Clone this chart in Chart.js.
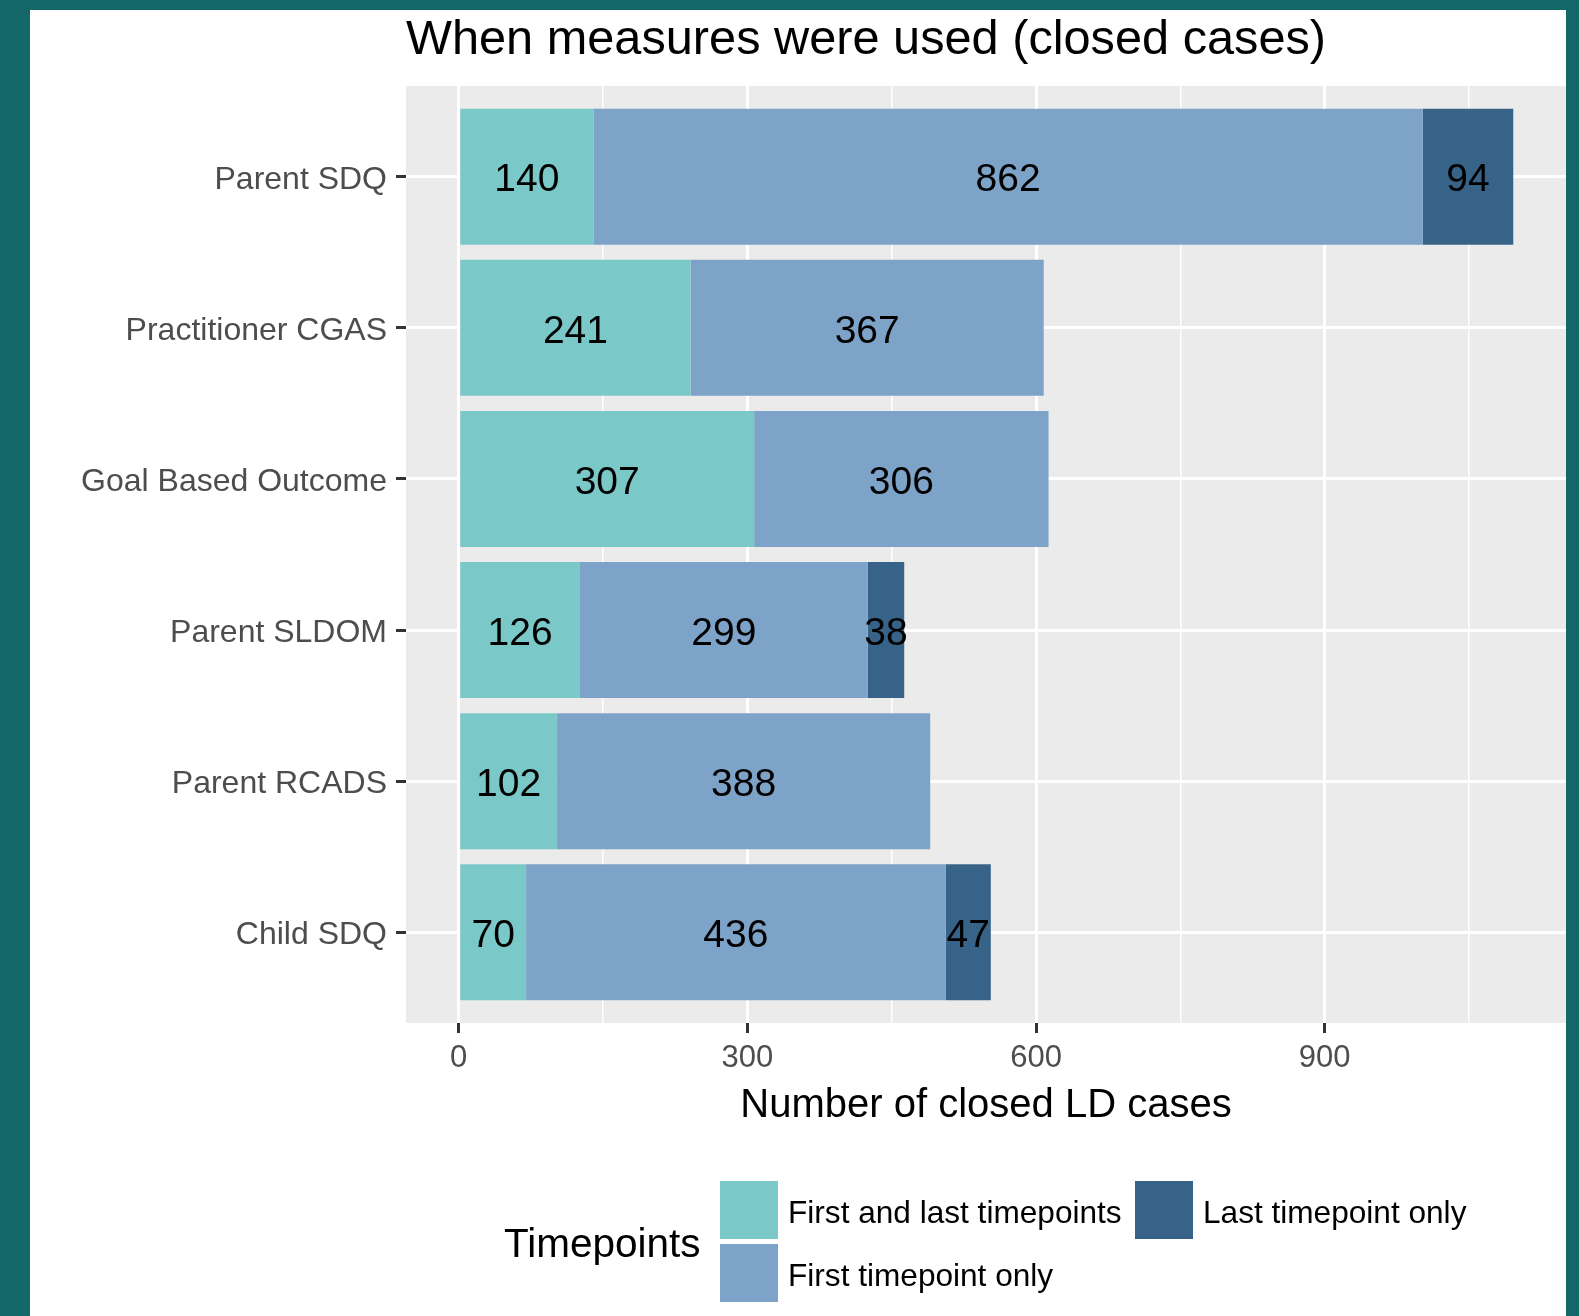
<!DOCTYPE html>
<html>
<head>
<meta charset="utf-8">
<title>When measures were used (closed cases)</title>
<script src="https://cdn.jsdelivr.net/npm/chart.js@4.4.0/dist/chart.umd.min.js"></script>
<style>
    html, body { margin: 0; padding: 0; }
    body { background: #14686A; width: 1579px; height: 1316px; overflow: hidden; position: relative; }
    #frame { position: absolute; left: 30px; top: 10px; width: 1536px; height: 1306px; background: #ffffff; }
</style>
</head>
<body>
<div id="frame"><canvas id="MeasuresChart" width="1536" height="1306"></canvas></div>
<script>
// chart data
var measures = ["Parent SDQ", "Practitioner CGAS", "Goal Based Outcome", "Parent SLDOM", "Parent RCADS", "Child SDQ"];
var firstAndLast = [140, 241, 307, 126, 102, 70];
var firstOnly = [862, 367, 306, 299, 388, 436];
var lastOnly = [94, 0, 0, 38, 0, 47];
var xTicks = [0, 150, 300, 450, 600, 750, 900, 1050];

var FONT = "'Liberation Sans', Arial, sans-serif";
Chart.defaults.font.family = FONT;

function toPoints(values) {
    var pts = [];
    for (var i = 0; i < values.length; ++i) {
        pts.push({x: values[i], y: i});
    }
    return pts;
}

// gray panel behind the bars
var panelBackground = {
    id: 'panelBackground',
    beforeDraw: function (chart) {
        var a = chart.chartArea;
        chart.ctx.save();
        chart.ctx.fillStyle = "#EBEBEB";
        chart.ctx.fillRect(a.left, a.top, a.right - a.left, a.bottom - a.top);
        chart.ctx.restore();
    }
};

// numbers in the middle of each segment
var segmentLabels = {
    id: 'segmentLabels',
    afterDatasetsDraw: function (chart) {
        var ctx = chart.ctx;
        ctx.save();
        ctx.font = "39px " + FONT;
        ctx.fillStyle = "#000000";
        ctx.textAlign = "center";
        ctx.textBaseline = "middle";
        chart.data.datasets.forEach(function (ds, i) {
            var meta = chart.getDatasetMeta(i);
            meta.data.forEach(function (bar, j) {
                var v = ds.data[j].x;
                if (!v) return;
                ctx.fillText(String(v), (bar.x + bar.base) / 2, bar.y + 4);
            });
        });
        ctx.restore();
    }
};

// title left aligned with the panel, ggplot style
var leftTitle = {
    id: 'leftTitle',
    afterDraw: function (chart) {
        var ctx = chart.ctx;
        ctx.save();
        ctx.font = "48.7px " + FONT;
        ctx.fillStyle = "#000000";
        ctx.textAlign = "left";
        ctx.textBaseline = "alphabetic";
        ctx.fillText(chart.options.plugins.leftTitle.text, chart.chartArea.left, 44);
        ctx.restore();
    }
};

// legend: title on the left, keys in two rows filled column by column
var sideLegend = {
    id: 'sideLegend',
    afterDraw: function (chart) {
        var ctx = chart.ctx;
        var ds = chart.data.datasets;
        var keyX = [690, 690, 1105];
        var keyY = [1171, 1234, 1171];
        ctx.save();
        ctx.fillStyle = "#000000";
        ctx.textBaseline = "alphabetic";
        ctx.textAlign = "left";
        ctx.font = "40.5px " + FONT;
        ctx.fillText(chart.options.plugins.sideLegend.title, 474, 1247);
        ctx.font = "31.6px " + FONT;
        for (var i = 0; i < ds.length; ++i) {
            ctx.fillStyle = ds[i].backgroundColor;
            ctx.fillRect(keyX[i], keyY[i], 58, 58);
            ctx.fillStyle = "#000000";
            ctx.fillText(ds[i].label, keyX[i] + 68, keyY[i] + 42);
        }
        ctx.restore();
    }
};

var canvas = document.getElementById("MeasuresChart");
var MeasuresChart = new Chart(canvas, {
    type: 'bar',
    data: {
        datasets: [
            {label: "First and last timepoints", data: toPoints(firstAndLast), backgroundColor: "#7BC8C8"},
            {label: "First timepoint only", data: toPoints(firstOnly), backgroundColor: "#7EA3C8"},
            {label: "Last timepoint only", data: toPoints(lastOnly), backgroundColor: "#386389"}
        ]
    },
    options: {
        indexAxis: 'y',
        responsive: false,
        animation: false,
        barPercentage: 0.9,
        categoryPercentage: 1.0,
        layout: {padding: {top: 76, left: 0, right: 0, bottom: 0}},
        scales: {
            x: {
                type: 'linear',
                stacked: true,
                min: -54.8,
                max: 1150.8,
                afterBuildTicks: function (scale) {
                    scale.ticks = xTicks.map(function (v) { return {value: v}; });
                },
                afterFit: function (scale) { scale.height = 293; },
                border: {display: false},
                grid: {
                    color: "#FFFFFF",
                    lineWidth: function (c) { return (c.tick && c.tick.value % 300 === 0) ? 3 : 1.5; },
                    tickColor: function (c) { return (c.tick && c.tick.value % 300 === 0) ? "#333333" : "rgba(0,0,0,0)"; },
                    tickWidth: 3,
                    tickLength: 10
                },
                ticks: {
                    autoSkip: false,
                    maxRotation: 0,
                    color: "#4D4D4D",
                    font: {size: 31},
                    padding: 7,
                    callback: function (v) { return v % 300 === 0 ? String(v) : ""; }
                },
                title: {
                    display: true,
                    text: "Number of closed LD cases",
                    color: "#000000",
                    font: {size: 40},
                    padding: {top: 0, bottom: 186}
                }
            },
            y: {
                type: 'linear',
                stacked: true,
                reverse: true,
                offset: false,
                min: -0.6,
                max: 5.6,
                afterBuildTicks: function (scale) {
                    scale.ticks = measures.map(function (m, i) { return {value: i}; });
                },
                afterFit: function (scale) { scale.width = 376; },
                border: {display: false},
                grid: {
                    offset: false,
                    color: "#FFFFFF",
                    lineWidth: 3,
                    tickColor: "#333333",
                    tickWidth: 3,
                    tickLength: 10
                },
                ticks: {
                    autoSkip: false,
                    color: "#4D4D4D",
                    font: {size: 32},
                    padding: 9,
                    labelOffset: 3,
                    callback: function (v) { return measures[v]; }
                }
            }
        },
        plugins: {
            legend: {display: false},
            tooltip: {enabled: false},
            leftTitle: {text: "When measures were used (closed cases)"},
            sideLegend: {title: "Timepoints"}
        }
    },
    plugins: [panelBackground, segmentLabels, leftTitle, sideLegend]
});
</script>
</body>
</html>
